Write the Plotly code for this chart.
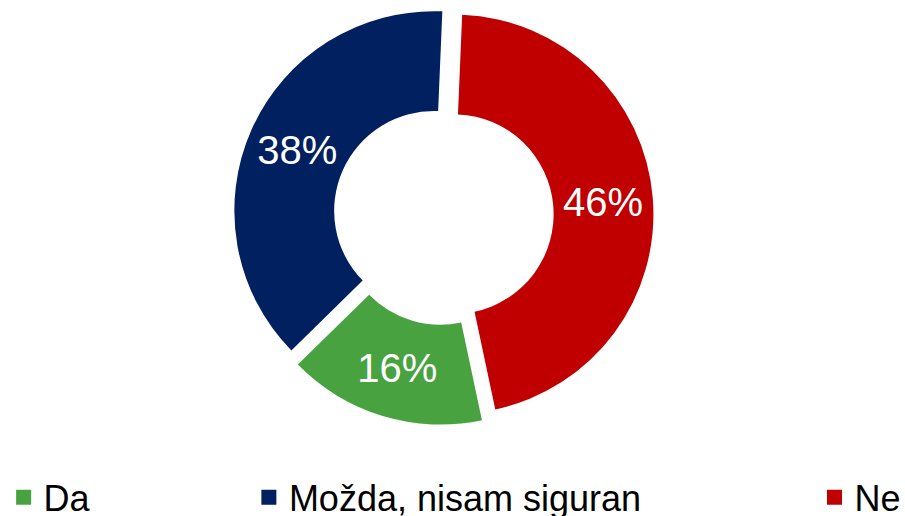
import plotly.graph_objects as go

categories = ["Da", "Možda, nisam siguran", "Ne"]
values = [16, 38, 46]
colors = ["#48A23F", "#002060", "#C00000"]

FONT = "Liberation Sans, Arial, sans-serif"

fig = go.Figure()

fig.add_trace(go.Pie(
    labels=categories,
    values=values,
    sort=False,
    direction="clockwise",
    rotation=168,
    hole=0.5,
    pull=[0.052, 0.052, 0.052],
    marker=dict(colors=colors, line=dict(width=0)),
    texttemplate="%{percent:.0%}",
    textposition="inside",
    insidetextorientation="horizontal",
    textfont=dict(family=FONT, size=40, color="white"),
    showlegend=False,
    domain=dict(x=[0, 0.98], y=[0, 1]),
    hoverinfo="label+percent",
))

# legend entries, each in its own legend so they can be spread like the original
legend_names = ["legend", "legend2", "legend3"]
legend_x = [0.004, 0.275, 0.9]
for name, col, lg in zip(categories, colors, legend_names):
    fig.add_trace(go.Scatter(
        x=[None], y=[None], mode="markers", name=name,
        marker=dict(symbol="square", size=15, color=col),
        legend=lg, showlegend=True, hoverinfo="skip",
    ))

legend_common = dict(
    orientation="h",
    yanchor="middle",
    xanchor="left",
    y=-0.172,
    font=dict(family=FONT, size=36, color="black"),
    bgcolor="rgba(0,0,0,0)",
    borderwidth=0,
)

fig.update_layout(
    width=905, height=516,
    margin=dict(l=0, r=0, t=5, b=91, autoexpand=False),
    paper_bgcolor="white",
    plot_bgcolor="white",
    xaxis=dict(visible=False),
    yaxis=dict(visible=False),
    legend=dict(x=legend_x[0], **legend_common),
    legend2=dict(x=legend_x[1], **legend_common),
    legend3=dict(x=legend_x[2], **legend_common),
)

fig.write_html(
    "out.html",
    config={"displayModeBar": False},
    post_script="document.body.style.margin='0';document.body.style.overflow='hidden';",
)
